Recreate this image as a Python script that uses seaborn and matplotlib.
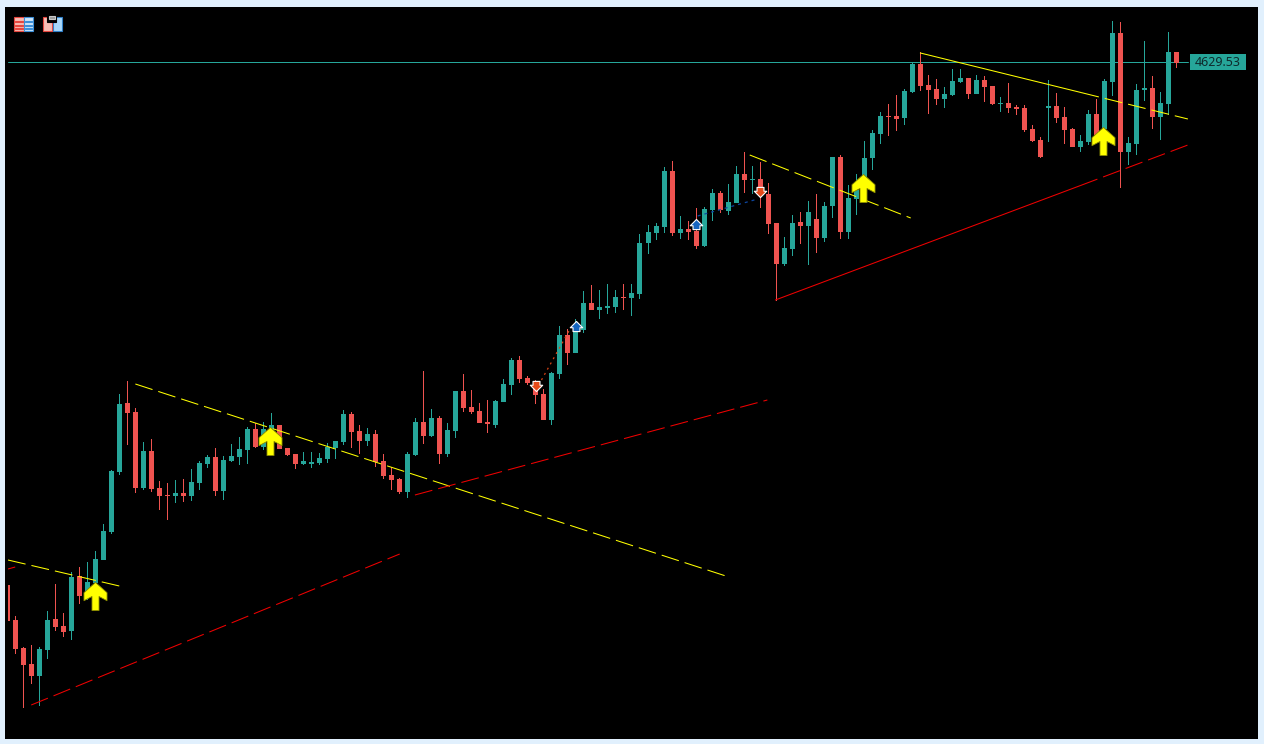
import numpy as np
import pandas as pd
import matplotlib
matplotlib.use("Agg")
import matplotlib.pyplot as plt
from matplotlib.patches import Rectangle
from matplotlib.path import Path
import seaborn as sns

# candle values, one per bar
opens = [4107,4072,4044,4028,4016,4042,4073,4066,4061,4116,4095,4109,4132,4160,4220,4289,4280,4204,4241,4204,
         4197,4196,4199,4196,4209,4228,4235,4201,4231,4235,4242,4263,4245,4260,4267,4244,4238,4228,4228,4229,
         4233,4244,4250,4278,4261,4251,4258,4231,4217,4213,4200,4237,4270,4256,4274,4238,4261,4301,4285,4281,
         4270,4267,4290,4307,4332,4314,4308,4298,4272,4318,4357,4339,4362,4389,4382,4384,4385,4395,4394,4398,
         4449,4459,4465,4521,4459,4463,4461,4446,4482,4499,4481,4489,4518,4512,4513,4498,4469,4428,4443,4470,
         4466,4473,4454,4486,4535,4460,4493,4515,4534,4558,4576,4576,4574,4600,4628,4607,4603,4593,4597,4610,
         4614,4598,4612,4606,4588,4589,4585,4584,4563,4552,4584,4586,4575,4563,4545,4550,4578,4563,4610,4659,
         4540,4548,4602,4604,4575,4588,4640]
highs = [4107,4076,4045,4047,4045,4081,4108,4079,4120,4125,4130,4141,4168,4222,4298,4311,4284,4250,4253,4211,
         4209,4212,4213,4223,4231,4237,4244,4236,4248,4255,4265,4269,4270,4279,4267,4244,4238,4240,4240,4239,
         4249,4251,4282,4280,4267,4264,4262,4238,4225,4214,4240,4274,4321,4283,4276,4269,4301,4318,4302,4289,
         4292,4292,4313,4334,4336,4316,4312,4303,4320,4366,4363,4373,4401,4407,4402,4408,4402,4408,4408,4458,
         4467,4469,4525,4531,4476,4471,4484,4485,4503,4501,4508,4526,4540,4526,4530,4509,4469,4455,4477,4480,
         4491,4498,4490,4535,4537,4507,4518,4551,4562,4580,4588,4597,4603,4629,4640,4617,4613,4605,4623,4623,
         4614,4617,4616,4606,4595,4609,4587,4587,4567,4555,4612,4599,4585,4564,4557,4582,4593,4613,4671,4670,
         4555,4608,4651,4616,4600,4660,4640]
lows = [4071,4038,3984,4008,3986,4033,4061,4055,4052,4088,4092,4102,4132,4158,4217,4247,4199,4202,4200,4182,
        4172,4189,4190,4191,4202,4224,4196,4192,4230,4227,4228,4244,4242,4256,4243,4236,4223,4227,4224,4227,
        4229,4233,4247,4244,4238,4246,4225,4213,4202,4198,4194,4236,4248,4255,4228,4235,4254,4280,4278,4269,
        4259,4264,4290,4297,4309,4307,4288,4272,4267,4313,4327,4339,4359,4382,4373,4378,4379,4382,4376,4393,
        4438,4452,4459,4456,4453,4452,4443,4445,4471,4479,4477,4489,4499,4498,4484,4458,4391,4426,4436,4448,
        4427,4439,4450,4474,4453,4453,4477,4512,4522,4548,4556,4561,4567,4599,4601,4578,4587,4584,4596,4609,
        4593,4598,4590,4587,4580,4579,4577,4560,4550,4534,4550,4569,4548,4545,4540,4547,4552,4557,4596,4504,
        4527,4537,4591,4563,4552,4577,4624]
closes = [4071,4043,4027,4016,4043,4072,4065,4060,4115,4096,4110,4133,4161,4221,4288,4279,4204,4241,4203,4196,
          4196,4199,4196,4210,4229,4235,4201,4232,4236,4243,4263,4245,4263,4267,4243,4237,4228,4231,4230,4234,
          4245,4251,4278,4260,4251,4258,4230,4216,4212,4200,4238,4270,4256,4274,4238,4262,4301,4284,4280,4269,
          4268,4291,4308,4332,4313,4309,4297,4272,4319,4357,4339,4362,4389,4382,4385,4386,4395,4394,4399,4449,
          4460,4466,4521,4459,4463,4460,4446,4483,4499,4482,4490,4518,4512,4513,4497,4468,4428,4444,4469,4466,
          4480,4454,4486,4535,4460,4494,4502,4534,4559,4576,4575,4573,4601,4628,4606,4602,4593,4598,4611,4614,
          4598,4612,4605,4588,4589,4584,4583,4562,4551,4535,4586,4574,4562,4545,4551,4578,4557,4611,4659,4540,
          4549,4602,4604,4575,4589,4640,4629]
last_price = 4629.53

# signal arrows
long_bars = [10.9, 32.85, 106.85, 136.8]
long_prices = [4096, 4251.5, 4504, 4551.5]
up_bars = [71, 86]
up_prices = [4366, 4468]
down_bars = [66, 94]
down_prices = [4306, 4500]

# trend lines: bar positions and prices of the end points
yellow_dashed = [([0.1, 14.0], [4132, 4106]), ([16.0, 90.1], [4308, 4115]), ([92.7, 112.8], [4537, 4474]), ([134.1, 147.4], [4599.4, 4573])]
yellow_solid = [([114.0, 134.1], [4639, 4599.4])]
red_dashed = [([0.1, 1.0], [4123, 4125]), ([3.0, 49.0], [3987, 4138]), ([50.9, 94.9], [4197, 4292]), ([134.0, 147.4], [4506.5, 4547])]
red_solid = [([95.9, 134.0], [4392, 4506.5])]
orange_dots = ([66.7, 70.2], [4312, 4362])
blue_dots = ([86.2, 93.7], [4476, 4493])

GREEN = "#26A69A"
RED = "#EF5350"
FRAME = "#E1F0FD"

W, H = 1264, 744
STEP = 8.01
FIRST = 7.2


def to_bar(px):
    return (px - FIRST) / STEP


def box(x, y, w, h):
    # figure fraction rectangle from pixels counted from the top left
    return (x / W, 1 - (y + h) / H), w / W, h / H


sns.set_theme(style="dark", rc={"axes.facecolor": "black", "figure.facecolor": FRAME})
fig = plt.figure(figsize=(W / 100, H / 100), dpi=100)
ax = fig.add_axes([5 / W, 5 / H, 1253 / W, 732 / H])

df = pd.DataFrame({"open": opens, "high": highs, "low": lows, "close": closes})
df["bar"] = np.arange(len(df))
df["color"] = np.where(df["close"] >= df["open"], GREEN, RED)
df["top"] = df[["open", "close"]].max(axis=1)
df["bottom"] = df[["open", "close"]].min(axis=1)

# wicks as 1px bars so they snap to the same pixel grid as the bodies
ax.bar(df["bar"], df["high"] - df["low"], bottom=df["low"], width=1 / STEP,
       color=df["color"], linewidth=0, zorder=2)
ax.bar(df["bar"], df["top"] - df["bottom"], bottom=df["bottom"], width=5 / STEP,
       color=df["color"], linewidth=0, zorder=3)

# last price line and its tag
sns.lineplot(x=[to_bar(8), to_bar(1188)], y=[last_price, last_price], color=GREEN, lw=0.72, errorbar=None, ax=ax, zorder=1)
ax.add_patch(Rectangle((to_bar(1190), last_price - 8), 56 / STEP, 16, color=GREEN, lw=0, zorder=5))
ax.text(to_bar(1218), last_price - 0.5, f"{last_price:.2f}", color="#0E2A2C", fontsize=9, family="Noto Sans",
        ha="center", va="center", zorder=6)

long_dash = (0, (17.3, 5.8))
for xs, ys in yellow_dashed:
    sns.lineplot(x=xs, y=ys, color="#FFFF00", lw=0.75, linestyle=long_dash, errorbar=None, ax=ax, zorder=4)
for xs, ys in red_dashed:
    sns.lineplot(x=xs, y=ys, color="#F00000", lw=0.75, linestyle=long_dash, errorbar=None, ax=ax, zorder=4)
for xs, ys in yellow_solid:
    sns.lineplot(x=xs, y=ys, color="#FFFF00", lw=0.75, errorbar=None, ax=ax, zorder=4)
for xs, ys in red_solid:
    sns.lineplot(x=xs, y=ys, color="#F00000", lw=0.75, errorbar=None, ax=ax, zorder=4)
sns.lineplot(x=orange_dots[0], y=orange_dots[1], color="#D84315", lw=0.9, linestyle=(0, (1.6, 3.2)), errorbar=None, ax=ax, zorder=4)
sns.lineplot(x=blue_dots[0], y=blue_dots[1], color="#0D47A1", lw=0.9, linestyle=(0, (2.4, 3.2)), errorbar=None, ax=ax, zorder=4)

# arrow shapes
big_up = Path([(0, 1), (0.82, 0.27), (0.82, -0.3), (0.25, 0.0), (0.25, -1), (-0.25, -1), (-0.25, 0.0),
               (-0.82, -0.3), (-0.82, 0.27), (0, 1)], closed=True)
small_up = Path([(0, 0.82), (1, -0.2), (0.56, -0.2), (0.56, -0.82), (-0.56, -0.82), (-0.56, -0.2), (-1, -0.2), (0, 0.82)], closed=True)
small_down = Path([(0, -0.82), (1, 0.2), (0.56, 0.2), (0.56, 0.82), (-0.56, 0.82), (-0.56, 0.2), (-1, 0.2), (0, -0.82)], closed=True)

sns.scatterplot(x=long_bars, y=long_prices, marker=big_up, s=410, color="#FFFF00", edgecolor="#8A8A00", linewidth=0.6, ax=ax, zorder=7)
sns.scatterplot(x=up_bars, y=up_prices, marker=small_up, s=80, color="#1565C0", edgecolor="white", linewidth=0.8, ax=ax, zorder=7)
sns.scatterplot(x=down_bars, y=down_prices, marker=small_down, s=80, color="#E64A19", edgecolor="white", linewidth=0.8, ax=ax, zorder=7)

# plot area stops at pixel 8 on the left
ax.set_xlim(to_bar(5), to_bar(1258))
ax.set_ylim(4692 - 739, 4692 - 7)
ax.axvspan(to_bar(5), to_bar(8), color="black", lw=0, zorder=6)
ax.set_xticks([])
ax.set_yticks([])
ax.set_xlabel("")
ax.set_ylabel("")
for s in ax.spines.values():
    s.set_visible(False)


# toolbar icons in the top left corner
def icon(x, y, w, h, face, edge=None):
    xy, fw, fh = box(x, y, w, h)
    fig.add_artist(Rectangle(xy, fw, fh, transform=fig.transFigure, facecolor=face,
                             edgecolor=edge if edge else face, lw=0.8, zorder=10))


icon(14, 17, 10, 14, "#F8BDB4", "#E5473F")
icon(24, 17, 9, 14, "#CFE6FA", "#3C8FD8")
for row in (21, 25, 28):
    icon(15, row, 8, 0.6, "#E5473F")
    icon(25, row, 7, 0.6, "#3C8FD8")
icon(43, 17, 9, 14, "#F8BDB4", "#E5473F")
icon(53, 17, 9, 14, "#A9D8FA", "#2F7FC8")
icon(47, 16, 9, 6, "black")
icon(49, 16, 6, 3, "#9A9A9A", "#C8C8C8")

fig.savefig("out.png", dpi=100, facecolor=FRAME)
